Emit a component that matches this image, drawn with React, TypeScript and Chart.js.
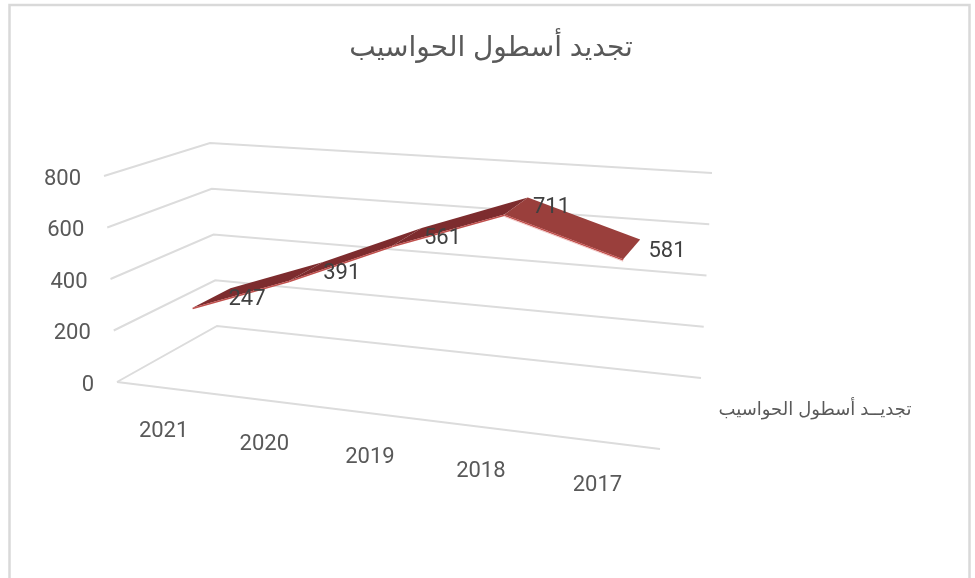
import React, { useEffect, useRef } from "react";
import { Chart, registerables } from "chart.js";

Chart.register(...registerables);

const categories = ["2021", "2020", "2019", "2018", "2017"];
const seriesName = "تجديد أسطول الحواسيب";
const legendText = "تجديــد أسطول الحواسيب";
const values = [247, 391, 561, 711, 581];
const yMax = 800;
const yStep = 200;

type P = [number, number];

// Box corners of the pseudo-3D view: order front-left, front-right, back-right, back-left
const FLOOR: P[] = [[117, 382], [660, 449], [701, 378], [217, 326]];
const TOP: P[] = [[104, 176], [680, 218], [712, 173], [210, 143]];
const W_FRONT = 0.29;
const W_BACK = 0.68;

function homography(q: P[]) {
  const [[x0, y0], [x1, y1], [x2, y2], [x3, y3]] = q;
  const dx1 = x1 - x2, dx2 = x3 - x2, sx = x0 - x1 + x2 - x3;
  const dy1 = y1 - y2, dy2 = y3 - y2, sy = y0 - y1 + y2 - y3;
  const den = dx1 * dy2 - dx2 * dy1;
  const g = (sx * dy2 - dx2 * sy) / den;
  const h = (dx1 * sy - sx * dy1) / den;
  const a = x1 - x0 + g * x1, b = x3 - x0 + h * x3;
  const d = y1 - y0 + g * y1, e = y3 - y0 + h * y3;
  return (u: number, w: number): P => {
    const k = g * u + h * w + 1;
    return [(a * u + b * w + x0) / k, (d * u + e * w + y0) / k];
  };
}
const floorH = homography(FLOOR);
const topH = homography(TOP);

function project(u: number, v: number, w: number): P {
  const f = floorH(u, w);
  const t = topH(u, w);
  return [f[0] + (t[0] - f[0]) * v, f[1] + (t[1] - f[1]) * v];
}

const TICK_FONT = "22px Roboto, 'Liberation Sans', sans-serif";
const ARABIC_FAMILY = "'Liberation Sans', 'DejaVu Sans', sans-serif";

const view3d = {
  id: "view3d",
  afterDraw(chart: any) {
    const { ctx, scales, chartArea } = chart;
    const xs = scales.x, ys = scales.y;
    const uOf = (i: number) => (xs.getPixelForValue(i) - chartArea.left) / chartArea.width;
    const vOf = (val: number) => (chartArea.bottom - ys.getPixelForValue(val)) / chartArea.height;

    ctx.save();
    // outer frame
    ctx.strokeStyle = "#D9D9D9";
    ctx.lineWidth = 2.5;
    ctx.strokeRect(9.5, 5, 960, 600);

    // gridlines
    ctx.strokeStyle = "#DCDCDC";
    ctx.lineWidth = 2;
    ctx.lineJoin = "miter";
    ys.ticks.forEach((t: any) => {
      const v = vOf(t.value);
      const a = project(0, v, 0), b = project(0, v, 1), c = project(1, v, 1);
      ctx.beginPath();
      ctx.moveTo(a[0], a[1]);
      ctx.lineTo(b[0], b[1]);
      ctx.lineTo(c[0], c[1]);
      ctx.stroke();
    });
    const fa = project(0, 0, 0), fb = project(1, 0, 0);
    ctx.beginPath();
    ctx.moveTo(fa[0], fa[1]);
    ctx.lineTo(fb[0], fb[1]);
    ctx.stroke();

    // y tick labels
    ctx.font = TICK_FONT;
    ctx.fillStyle = "#595959";
    ctx.textAlign = "right";
    ctx.textBaseline = "middle";
    ys.ticks.forEach((t: any) => {
      const p = project(0, vOf(t.value), 0);
      ctx.fillText(String(t.value), p[0] - 23, p[1] + 3);
    });

    // x tick labels
    ctx.textAlign = "center";
    categories.forEach((_, i) => {
      const p = project(uOf(i), 0, 0);
      ctx.fillText(xs.getLabelForValue(i), p[0] - 2, p[1] + 44);
    });

    // ribbon
    const front = values.map((val, i) => project(uOf(i), vOf(val), W_FRONT));
    const back = values.map((val, i) => project(uOf(i), vOf(val), W_BACK));
    for (let i = 0; i < values.length - 1; i++) {
      const rising = values[i + 1] > values[i];
      ctx.fillStyle = rising ? "#7D2C2E" : "#9A3F3C";
      ctx.beginPath();
      ctx.moveTo(front[i][0], front[i][1]);
      ctx.lineTo(front[i + 1][0], front[i + 1][1]);
      ctx.lineTo(back[i + 1][0], back[i + 1][1]);
      ctx.lineTo(back[i][0], back[i][1]);
      ctx.closePath();
      ctx.fill();
      ctx.strokeStyle = "#C0504D";
      ctx.lineWidth = 1.6;
      ctx.beginPath();
      ctx.moveTo(front[i][0], front[i][1] + 0.8);
      ctx.lineTo(front[i + 1][0], front[i + 1][1] + 0.8);
      ctx.stroke();
      if (!rising) {
        ctx.strokeStyle = "#F0C8C6";
        ctx.lineWidth = 1;
        ctx.beginPath();
        ctx.moveTo(front[i][0], front[i][1] + 2);
        ctx.lineTo(front[i + 1][0], front[i + 1][1] + 2);
        ctx.stroke();
      }
    }

    // data labels
    ctx.fillStyle = "#404040";
    ctx.textAlign = "center";
    values.forEach((val, i) => {
      const p = project(uOf(i), vOf(val), (W_FRONT + W_BACK) / 2);
      ctx.fillText(String(val), p[0] + 35, p[1] + 2);
    });

    // series legend
    ctx.font = `18px ${ARABIC_FAMILY}`;
    ctx.fillStyle = "#595959";
    ctx.direction = "rtl";
    ctx.textAlign = "center";
    ctx.fillText(legendText, 815, 410);
    ctx.restore();
  },
};

export default function App() {
  const ref = useRef<HTMLCanvasElement>(null);
  useEffect(() => {
    document.body.style.margin = "0";
    const chart = new Chart(ref.current as HTMLCanvasElement, {
      type: "line",
      data: {
        labels: categories,
        datasets: [
          {
            label: seriesName,
            data: values,
            showLine: false,
            pointRadius: 0,
            borderColor: "#C0504D",
            backgroundColor: "#C0504D",
          },
        ],
      },
      options: {
        responsive: false,
        animation: false,
        layout: { padding: { left: 7, top: 31 } },
        plugins: {
          legend: { display: false },
          tooltip: { enabled: false },
          title: {
            display: true,
            text: seriesName,
            color: "#595959",
            font: { size: 28, weight: "normal", family: ARABIC_FAMILY },
            rtl: true,
            textDirection: "rtl",
            padding: 0,
          },
        },
        scales: {
          x: { display: false, offset: true },
          y: { display: false, min: 0, max: yMax, ticks: { stepSize: yStep } },
        },
      },
      plugins: [view3d],
    } as any);
    return () => chart.destroy();
  }, []);
  return (
    <div style={{ position: "fixed", left: 0, top: 0, width: 975, height: 578, background: "#fff" }}>
      <canvas ref={ref} width={975} height={578} style={{ display: "block" }} />
    </div>
  );
}
